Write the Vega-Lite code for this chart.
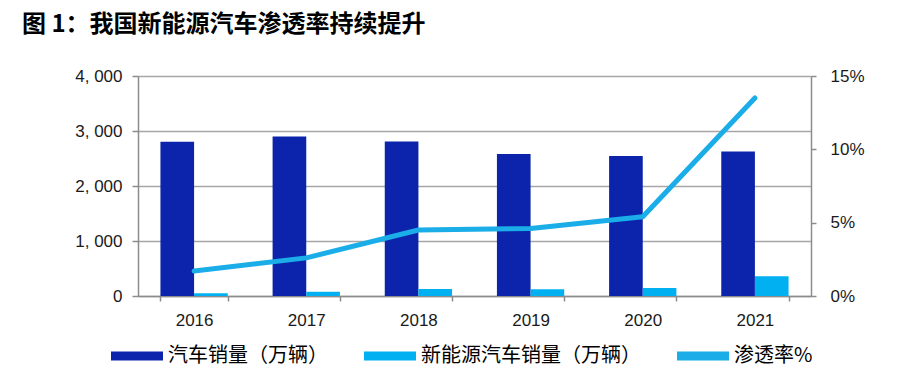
{
  "$schema": "https://vega.github.io/schema/vega-lite/v6.json",
  "width": 673,
  "height": 220,
  "autosize": {"type": "none"},
  "padding": {"left": 138, "top": 76, "right": 103, "bottom": 75},
  "background": "white",
  "title": {
    "text": "图 1：我国新能源汽车渗透率持续提升",
    "anchor": "start",
    "frame": "group",
    "dx": -116,
    "offset": 30,
    "font": "Noto Sans CJK SC",
    "fontSize": 24,
    "fontWeight": "bold",
    "color": "#000000"
  },
  "config": {
    "view": {"stroke": null},
    "axis": {
      "labelFont": "Liberation Sans",
      "labelFontSize": 17,
      "labelColor": "#1a1a1a",
      "domainColor": "#8c8c8c",
      "tickColor": "#8c8c8c",
      "domainWidth": 1.5,
      "tickWidth": 1.5,
      "title": null
    }
  },
  "layer": [
    {
      "data": {
        "values": [
          {"year": "2016", "series": "汽车销量（万辆）", "sales": 2803},
          {"year": "2017", "series": "汽车销量（万辆）", "sales": 2900},
          {"year": "2018", "series": "汽车销量（万辆）", "sales": 2808},
          {"year": "2019", "series": "汽车销量（万辆）", "sales": 2580},
          {"year": "2020", "series": "汽车销量（万辆）", "sales": 2545},
          {"year": "2021", "series": "汽车销量（万辆）", "sales": 2628},
          {"year": "2016", "series": "新能源汽车销量（万辆）", "sales": 51},
          {"year": "2017", "series": "新能源汽车销量（万辆）", "sales": 78},
          {"year": "2018", "series": "新能源汽车销量（万辆）", "sales": 126},
          {"year": "2019", "series": "新能源汽车销量（万辆）", "sales": 121},
          {"year": "2020", "series": "新能源汽车销量（万辆）", "sales": 145},
          {"year": "2021", "series": "新能源汽车销量（万辆）", "sales": 360}
        ]
      },
      "mark": {"type": "bar"},
      "encoding": {
        "x": {
          "field": "year",
          "type": "nominal",
          "scale": {"paddingInner": 0.4, "paddingOuter": 0.2},
          "axis": {
            "labelAngle": 0,
            "tickBand": "extent",
            "tickSize": 5,
            "labelPadding": 11,
            "labelColor": "#1a1a1a"
          }
        },
        "xOffset": {
          "field": "series",
          "type": "nominal",
          "sort": ["汽车销量（万辆）", "新能源汽车销量（万辆）"],
          "scale": {"paddingInner": 0, "paddingOuter": 0}
        },
        "y": {
          "field": "sales",
          "type": "quantitative",
          "scale": {"domain": [0, 4000]},
          "axis": {
            "values": [0, 1000, 2000, 3000, 4000],
            "format": ",d",
            "labelExpr": "replace(datum.label, ',', ', ')",
            "grid": true,
            "gridColor": "#a6a6a6",
            "gridWidth": 1.5,
            "tickSize": 6,
            "labelPadding": 10
          }
        },
        "color": {
          "field": "series",
          "type": "nominal",
          "scale": {
            "domain": ["汽车销量（万辆）", "新能源汽车销量（万辆）", "渗透率%"],
            "range": ["#0b24ab", "#00b0f0", "#1aade8"]
          },
          "legend": {
            "orient": "none",
            "legendX": -27,
            "legendY": 254,
            "direction": "horizontal",
            "title": null,
            "symbolType": "M-1,-0.17H1V0.17H-1Z",
            "symbolSize": 2704,
            "symbolStrokeWidth": 0,
            "symbolOpacity": 1,
            "labelFont": "Noto Sans CJK SC",
            "labelFontSize": 20,
            "labelColor": "#000000",
            "labelOffset": 5,
            "labelLimit": 500,
            "columnPadding": 36
          }
        }
      }
    },
    {
      "data": {
        "values": [
          {"year": "2016", "rate": 1.7},
          {"year": "2017", "rate": 2.6},
          {"year": "2018", "rate": 4.5},
          {"year": "2019", "rate": 4.6},
          {"year": "2020", "rate": 5.4},
          {"year": "2021", "rate": 13.5}
        ]
      },
      "mark": {"type": "line", "color": "#1aade8", "strokeWidth": 5, "strokeCap": "round", "strokeJoin": "round"},
      "encoding": {
        "x": {"field": "year", "type": "nominal"},
        "y": {
          "field": "rate",
          "type": "quantitative",
          "scale": {"domain": [0, 15]},
          "axis": {
            "orient": "right",
            "values": [0, 5, 10, 15],
            "labelExpr": "datum.value + '%'",
            "grid": false,
            "tickSize": 5,
            "labelPadding": 14
          }
        }
      }
    }
  ],
  "resolve": {"scale": {"y": "independent"}}
}
